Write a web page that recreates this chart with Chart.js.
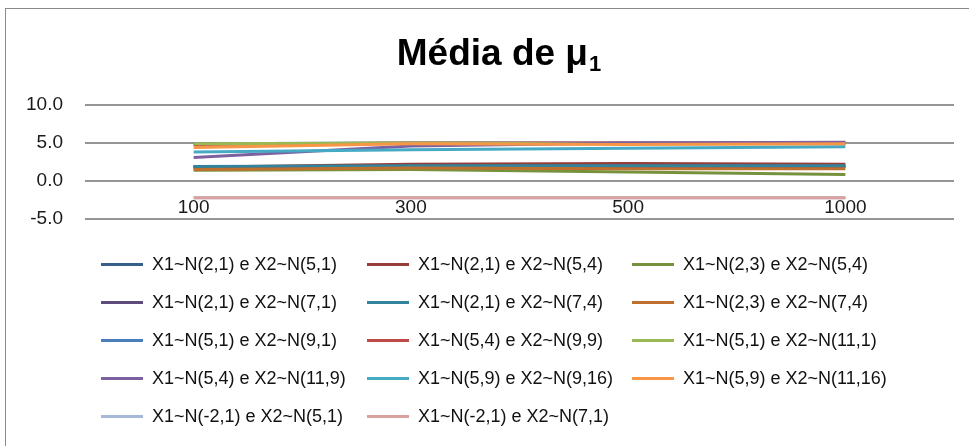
<!DOCTYPE html>
<html>
<head>
<meta charset="utf-8">
<script src="https://cdn.jsdelivr.net/npm/chart.js@4.4.1/dist/chart.umd.min.js"></script>
<style>
  html, body { margin: 0; padding: 0; width: 969px; height: 446px; overflow: hidden; background: #fff; }
  #frame { position: absolute; left: 5px; top: 8px; width: 988px; height: 460px;
           border: 1px solid #8a8a8a; box-sizing: border-box; background: #fff; }
  #plot { position: absolute; left: 0; top: 0; width: 986px; height: 458px; }
  #legend { position: absolute; left: 0; top: 0; width: 986px; height: 458px; pointer-events: none; }
  .item { position: absolute; height: 22px; display: flex; align-items: center; white-space: nowrap;
          font: 18px "Liberation Sans", Arial, sans-serif; color: #111; }
  .swatch { width: 42px; height: 3px; margin-right: 9px; flex: none; }
</style>
</head>
<body>
<div id="frame">
  <div id="plot"><canvas id="chart"></canvas></div>
  <div id="legend"></div>
</div>
<script>
// Sample sizes on the horizontal axis
const categories = ['100', '300', '500', '1000'];

// Vertical axis ticks
const yTicks = [-5, 0, 5, 10];

// Chart title (main part and subscript)
const titleMain = 'Média de μ';
const titleSub = '1';

// Series names
const seriesNames = [
  'X1~N(2,1) e X2~N(5,1)',  'X1~N(2,1) e X2~N(5,4)',  'X1~N(2,3) e X2~N(5,4)',
  'X1~N(2,1) e X2~N(7,1)',  'X1~N(2,1) e X2~N(7,4)',  'X1~N(2,3) e X2~N(7,4)',
  'X1~N(5,1) e X2~N(9,1)',  'X1~N(5,4) e X2~N(9,9)',  'X1~N(5,1) e X2~N(11,1)',
  'X1~N(5,4) e X2~N(11,9)', 'X1~N(5,9) e X2~N(9,16)', 'X1~N(5,9) e X2~N(11,16)',
  'X1~N(-2,1) e X2~N(5,1)', 'X1~N(-2,1) e X2~N(7,1)'
];

// Mean of the estimates of mu1 for each scenario
const s01 = [1.9, 1.9, 1.9, 1.9];
const s02 = [1.8, 2.2, 2.3, 2.2];
const s03 = [1.4, 1.5, 1.2, 0.85];
const s04 = [1.8, 1.9, 1.9, 1.9];
const s05 = [1.9, 2.0, 2.0, 2.0];
const s06 = [1.5, 1.7, 1.6, 1.6];
const s07 = [4.9, 5.0, 5.0, 5.0];
const s08 = [4.8, 5.0, 5.0, 5.0];
const s09 = [4.9, 5.0, 4.9, 4.9];
const s10 = [3.1, 4.6, 5.0, 5.1];
const s11 = [3.8, 4.1, 4.3, 4.5];
const s12 = [4.4, 4.9, 4.8, 4.9];
const s13 = [-2.2, -2.2, -2.2, -2.2];
const s14 = [-2.2, -2.2, -2.2, -2.2];

const seriesValues = [s01, s02, s03, s04, s05, s06, s07, s08, s09, s10, s11, s12, s13, s14];

const seriesColors = [
  '#385E8C', '#963C3A', '#76923C', '#5F4A7C', '#31849B', '#C0702E',
  '#4A7EBB', '#BE4B48', '#98B954', '#7D60A0', '#46AAC5', '#F79646',
  '#A7B9D8', '#D9A19F'
];

const FONT = '"Liberation Sans", Arial, sans-serif';

// Title with a real subscript, centred over the chart object
const subscriptTitle = {
  id: 'subscriptTitle',
  afterDraw(chart) {
    const { ctx, width } = chart;
    ctx.save();
    const mainFont = 'bold 37px ' + FONT;
    const subFont = 'bold 22px ' + FONT;
    ctx.font = mainFont;
    const wMain = ctx.measureText(titleMain).width;
    ctx.font = subFont;
    const wSub = ctx.measureText(titleSub).width;
    const x0 = width / 2 - (wMain + 1 + wSub) / 2;
    const baseline = 56;
    ctx.fillStyle = '#000';
    ctx.textAlign = 'left';
    ctx.textBaseline = 'alphabetic';
    ctx.font = mainFont;
    ctx.fillText(titleMain, x0, baseline);
    ctx.font = subFont;
    ctx.fillText(titleSub, x0 + wMain + 1, baseline + 6);
    ctx.restore();
  }
};

// Category labels sit just under the zero line
const categoryLabels = {
  id: 'categoryLabels',
  afterDraw(chart) {
    const { ctx, scales: { x, y } } = chart;
    ctx.save();
    ctx.font = '19px ' + FONT;
    ctx.fillStyle = '#1a1a1a';
    ctx.textAlign = 'center';
    ctx.textBaseline = 'middle';
    const yPix = y.getPixelForValue(0) + 27;
    categories.forEach((c, i) => ctx.fillText(c, x.getPixelForValue(i), yPix));
    ctx.restore();
  }
};

const n = seriesValues.length;
const datasets = seriesValues.map((vals, i) => ({
  label: seriesNames[i],
  data: vals,
  borderColor: seriesColors[i],
  backgroundColor: seriesColors[i],
  borderWidth: 3,
  pointRadius: 0,
  pointHoverRadius: 0,
  fill: false,
  tension: 0,
  order: n - i   // later series are painted over earlier ones
}));

new Chart(document.getElementById('chart'), {
  type: 'line',
  data: { labels: categories, datasets },
  plugins: [subscriptTitle, categoryLabels],
  options: {
    responsive: true,
    maintainAspectRatio: false,
    animation: false,
    layout: { padding: { left: 0, right: 38, top: 96, bottom: 248 } },
    plugins: {
      legend: { display: false },
      tooltip: { enabled: false },
      title: { display: false }
    },
    scales: {
      x: {
        display: false,
        offset: true
      },
      y: {
        min: -5,
        max: 10,
        afterBuildTicks(scale) { scale.ticks = yTicks.map(v => ({ value: v })); },
        afterFit(scale) { scale.width = 79; },
        border: { display: false },
        grid: { color: '#959595', lineWidth: 2, drawTicks: false },
        ticks: {
          padding: 22,
          color: '#1a1a1a',
          font: { family: FONT, size: 19 },
          callback: v => Number(v).toFixed(1)
        }
      }
    }
  }
});

// Legend laid out in three aligned columns
const legend = document.getElementById('legend');
const colX = [95, 361, 626];
const rowY = [255, 293, 331, 369, 407];
seriesNames.forEach((name, i) => {
  const item = document.createElement('div');
  item.className = 'item';
  item.style.left = colX[i % 3] + 'px';
  item.style.top = (rowY[Math.floor(i / 3)] - 11) + 'px';
  const sw = document.createElement('span');
  sw.className = 'swatch';
  sw.style.background = seriesColors[i];
  const tx = document.createElement('span');
  tx.textContent = name;
  item.appendChild(sw);
  item.appendChild(tx);
  legend.appendChild(item);
});
</script>
</body>
</html>
